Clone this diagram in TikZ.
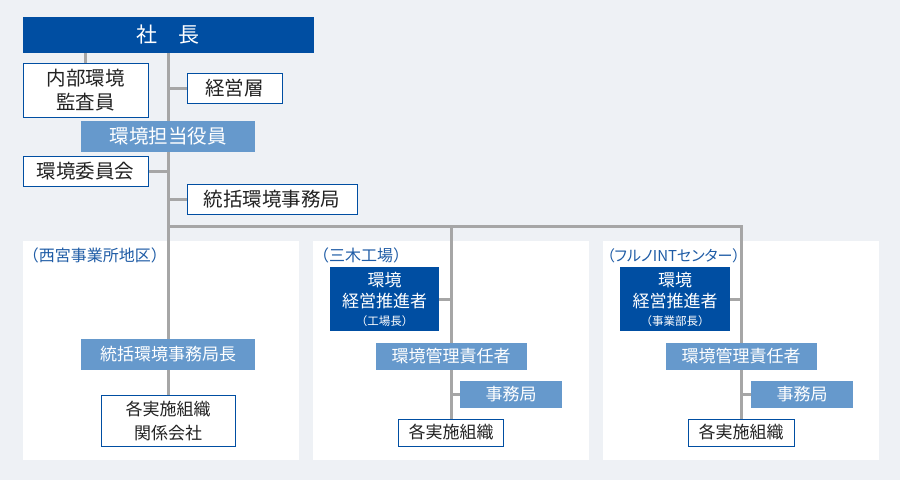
\documentclass[tikz,border=0pt]{standalone}
\usepackage{fontspec}
\setmainfont{Noto Sans CJK JP}
\usepackage{xcolor}
\usepackage{tikz}
\usetikzlibrary{shapes,positioning,backgrounds}
\pgfdeclarelayer{background}
\pgfdeclarelayer{lines}
\pgfsetlayers{background,lines,main}
\definecolor{darkblue}{HTML}{004EA2}
\definecolor{lightblue}{HTML}{6699CC}
\definecolor{linegray}{HTML}{A6A6A6}
\definecolor{bggray}{HTML}{EEF1F5}
\definecolor{labelblue}{HTML}{1F5CA6}
\definecolor{textgray}{HTML}{222222}
\tikzstyle{head} = [rectangle, fill=darkblue, text=white, inner sep=0pt, font=\fontsize{21}{25}\selectfont]
\tikzstyle{officer} = [rectangle, fill=lightblue, text=white, inner sep=0pt, align=center, font=\fontsize{19.5}{24}\selectfont]
\tikzstyle{unit} = [rectangle, draw=darkblue, line width=1pt, fill=white, text=textgray, inner sep=0pt, align=center, font=\fontsize{19.5}{24}\selectfont]
\tikzstyle{promoter} = [rectangle, fill=darkblue, text=white, inner sep=0pt, align=center, font=\fontsize{17}{21}\selectfont, minimum height=64pt]
\tikzstyle{lower} = [font=\fontsize{17}{24}\selectfont]
\tikzstyle{area} = [rectangle, fill=white, inner sep=0pt, minimum width=276pt, minimum height=219pt]
\tikzstyle{arealabel} = [anchor=west, text=labelblue, inner sep=0pt, font=\fontsize{16}{18}\selectfont]
\tikzstyle{link} = [linegray, line width=3pt]

\begin{document}
\begin{tikzpicture}[x=1pt,y=-1pt]
    \useasboundingbox (0,0) rectangle (900,480);
    % Areas
    \begin{pgfonlayer}{background}
        \fill [bggray] (0,0) rectangle (900,480);
        \node [area] (nishinomiya) at (161,350.5) {};
        \node [area] (miki) at (451,350.5) {};
        \node [area] (furuno) at (741,350.5) {};
    \end{pgfonlayer}
    \node [arealabel] (nishinomiyaLabel) at ([yshift=-15pt]nishinomiya.north west) {（西宮事業所地区）};
    \node [arealabel] (mikiLabel) at ([yshift=-15pt]miki.north west) {（三木工場）};
    \node [arealabel, font=\fontsize{15}{18}\selectfont] (furunoLabel) at ([xshift=4pt,yshift=-15pt]furuno.north west) {\addfontfeatures{RawFeature=+palt}（フルノINTセンター）};

    % Head office
    \node [head, minimum width=291pt, minimum height=36pt] (shacho) at (168,35) {社　長};
    \node [unit, minimum width=125pt, minimum height=54pt] (kansa) at (85.5,90) {内部環境\\監査員};
    \node [unit, minimum width=95pt, minimum height=30pt] (keiei) at (234.5,88) {経営層};
    \node [officer, minimum width=174pt, minimum height=31pt] (tanto) at (168,136.5) {環境担当役員};
    \node [unit, minimum width=125pt, minimum height=30pt] (iinkai) at (85.5,171) {環境委員会};
    \node [unit, minimum width=170pt, minimum height=30pt] (jimukyoku) at (272,199) {統括環境事務局};
    \coordinate (split) at (168,226);
    \coordinate (splitM) at (451,226);
    \coordinate (splitR) at (741,226);

    % Nishinomiya
    \node [officer, lower, minimum width=174pt, minimum height=31pt] (kyokucho) at (168,354.5) {統括環境事務局長};
    \node [unit, lower, minimum width=134pt, minimum height=51pt] (kakuW) at (168,420.5) {各実施組織\\関係会社};

    % Miki
    \node [promoter, minimum width=109pt] (suishinM) at (384.5,299) {環境\\経営推進者\\[-3pt]{\fontsize{11.5}{13}\selectfont （工場長）}};
    \node [officer, lower, minimum width=151pt, minimum height=27pt] (sekininM) at (451,356.5) {環境管理責任者};
    \node [officer, lower, minimum width=102pt, minimum height=27pt] (jimuM) at (511,394.5) {事務局};
    \node [unit, lower, minimum width=105pt, minimum height=27pt] (kakuM) at (451,432.5) {各実施組織};

    % Furuno
    \node [promoter, minimum width=110pt] (suishinR) at (675,299) {環境\\経営推進者\\[-3pt]{\fontsize{11.5}{13}\selectfont （事業部長）}};
    \node [officer, lower, minimum width=151pt, minimum height=27pt] (sekininR) at (741,356.5) {環境管理責任者};
    \node [officer, lower, minimum width=102pt, minimum height=27pt] (jimuR) at (802,394.5) {事務局};
    \node [unit, lower, minimum width=106pt, minimum height=27pt] (kakuR) at (741,432.5) {各実施組織};

    % Lines
    \begin{pgfonlayer}{lines}
        \draw [link] (shacho.south) -- (kakuW.north);
        \draw [link] (kansa.north) -- (kansa.north |- shacho.south);
        \draw [link] (keiei.west) -- (keiei.west -| shacho.south);
        \draw [link] (iinkai.east) -- (iinkai.east -| shacho.south);
        \draw [link] (jimukyoku.west) -- (jimukyoku.west -| shacho.south);
        \draw [link] (split) -- (splitR) -- (kakuR.north);
        \draw [link] (splitM) -- (kakuM.north);
        \draw [link] (suishinM.east) -- (suishinM.east -| kakuM.north);
        \draw [link] (jimuM.west) -- (jimuM.west -| kakuM.north);
        \draw [link] (suishinR.east) -- (suishinR.east -| kakuR.north);
        \draw [link] (jimuR.west) -- (jimuR.west -| kakuR.north);
    \end{pgfonlayer}
\end{tikzpicture}
\end{document}
